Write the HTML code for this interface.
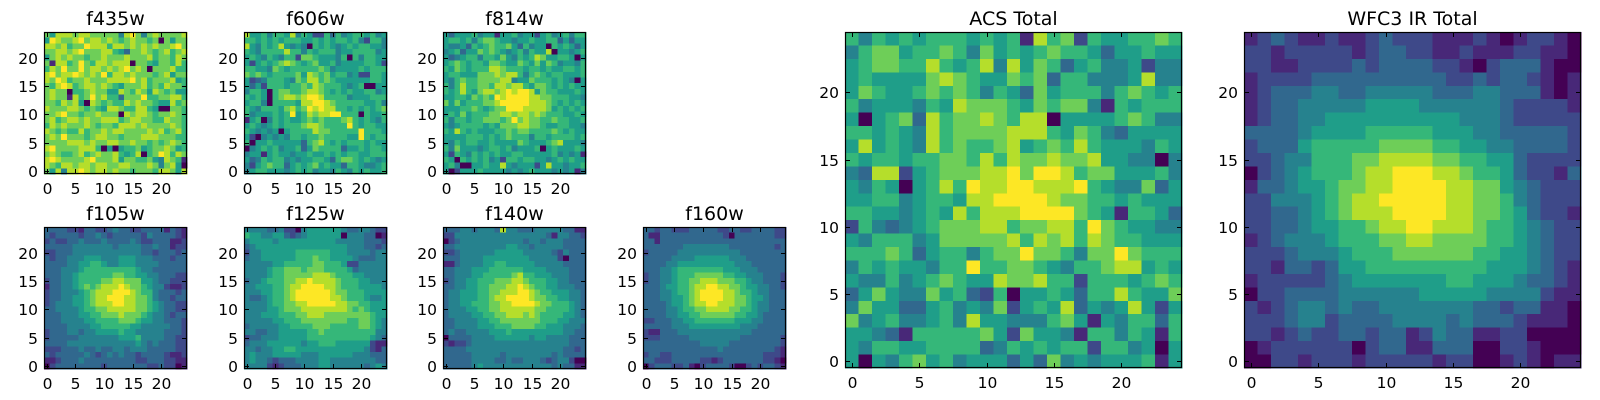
<!DOCTYPE html>
<html><head><meta charset="utf-8">
<style>
html,body{margin:0;padding:0;background:#fff;}
svg{display:block;}
text{font-family:"DejaVu Sans","Liberation Sans",sans-serif;fill:#000;}
</style></head>
<body>
<svg id="fig" width="1600" height="400" viewBox="0 0 1600 400"></svg>
<script>
// Pixel levels (0..9 on viridis), rows listed from top (y=24) to bottom (y=0)
const f435w = [
"7 5 8 8 8 7 8 8 7 7 7 7 7 4 8 9 7 4 7 8 7 7 7 7 8",
"5 9 8 7 7 8 9 7 8 8 7 8 7 6 7 8 7 7 6 7 0 7 5 7 7",
"8 8 7 8 6 7 7 9 8 8 8 6 8 8 7 8 7 8 7 8 7 7 8 9 7",
"7 7 8 8 7 8 9 7 7 7 8 8 6 5 3 7 7 8 7 6 7 8 6 7 8",
"5 7 8 7 8 7 7 6 7 7 8 7 7 7 8 7 7 7 8 6 7 7 6 8 7",
"7 1 8 8 6 7 9 7 6 8 8 7 8 8 8 0 7 7 6 5 7 7 6 8 6",
"6 8 7 9 7 7 9 7 8 8 7 8 7 8 9 7 8 7 0 7 7 7 8 6 6",
"8 9 7 8 8 9 8 7 8 7 9 6 8 8 7 8 7 7 7 6 7 8 5 7 7",
"8 7 9 8 6 7 7 8 7 7 7 8 8 8 8 9 7 8 6 7 7 7 8 5 6",
"7 6 8 9 8 6 7 8 8 7 8 7 6 5 7 7 7 8 6 7 6 8 7 7 6",
"7 8 7 7 0 6 6 7 8 7 7 5 5 8 7 6 8 7 5 8 7 6 7 5 5",
"7 8 7 7 1 8 6 7 9 7 8 6 6 3 7 7 7 9 6 6 7 7 8 8 6",
"7 7 6 8 7 8 5 0 8 7 6 7 6 6 8 7 8 7 7 6 5 5 8 6 7",
"8 7 7 7 8 8 7 6 7 6 5 8 8 7 6 6 8 8 6 5 0 0 7 7 6",
"7 7 8 9 7 7 6 7 7 8 7 7 7 0 8 7 8 8 7 6 7 7 8 7 6",
"7 8 6 7 8 8 7 8 7 7 8 8 8 6 7 8 8 7 7 6 6 8 7 7 6",
"6 8 7 8 7 7 7 8 7 6 7 7 6 8 8 8 7 8 7 7 7 7 8 7 6",
"8 7 6 7 6 6 8 6 7 7 8 7 8 8 7 7 7 7 8 7 8 6 7 8 6",
"7 8 7 9 7 7 7 6 7 8 8 7 7 6 7 7 7 8 8 8 7 7 7 6 6",
"7 7 7 7 8 8 8 7 8 7 7 8 8 7 7 8 7 7 6 7 6 7 8 7 6",
"8 9 7 7 7 7 8 8 8 6 0 5 0 5 6 6 7 5 6 7 7 8 7 5 6",
"7 8 7 6 6 7 8 6 7 8 7 7 8 6 5 6 8 0 6 7 9 8 6 8 7",
"8 9 8 7 7 7 7 8 9 7 7 7 8 5 7 7 6 6 7 5 4 8 7 6 1",
"8 7 6 8 8 7 8 8 7 8 8 7 7 8 8 7 7 7 8 7 4 7 8 5 0",
"7 5 8 4 8 8 9 8 7 8 8 7 8 7 7 6 7 7 7 6 8 8 7 5 8"];
const f606w = [
"8 5 5 6 4 6 6 5 8 4 6 5 2 2 6 3 6 4 5 6 6 5 6 4 5",
"6 6 5 6 5 6 5 6 6 6 5 5 6 5 6 5 6 6 5 6 4 2 6 6 4",
"8 5 4 6 5 6 8 5 4 5 4 0 6 5 6 5 4 5 6 5 6 6 5 5 4",
"6 5 4 6 6 6 6 8 6 6 4 6 5 6 6 6 4 5 5 6 6 6 6 4 5",
"5 6 5 4 6 5 4 6 6 2 7 7 6 5 5 5 4 6 0 6 4 6 6 5 5",
"5 2 5 6 5 6 7 8 7 6 5 6 7 5 5 6 4 5 5 5 5 6 6 5 2",
"6 6 5 5 4 7 6 5 6 6 6 6 6 7 6 4 5 5 5 5 6 5 6 6 6",
"7 6 7 6 5 6 6 6 6 7 5 8 7 6 7 5 6 6 4 5 2 2 6 6 5",
"5 2 3 4 6 6 6 5 4 7 6 8 8 6 7 6 5 5 5 5 5 5 6 6 5",
"5 3 5 2 6 6 6 5 6 6 7 6 8 7 6 6 6 5 4 5 6 0 0 5 5",
"4 6 6 5 0 6 7 7 6 6 7 8 8 7 6 5 6 5 6 5 5 6 6 4 5",
"6 5 6 5 0 6 7 8 8 7 8 9 9 8 6 6 6 6 4 5 5 5 6 6 6",
"5 6 6 4 0 6 6 6 6 5 8 8 9 9 8 7 6 6 6 6 6 5 5 6 4",
"6 5 4 6 6 6 5 7 8 6 7 9 8 9 8 8 6 6 5 6 5 6 5 6 7",
"6 4 5 5 5 6 5 6 9 5 6 8 7 8 8 9 9 6 6 6 0 6 5 5 6",
"1 5 6 0 4 6 5 6 5 5 6 7 6 7 6 6 6 7 8 6 5 6 5 4 6",
"5 6 5 4 5 6 5 6 6 6 7 8 8 7 6 6 6 6 9 6 5 6 6 5 5",
"6 5 4 5 4 5 0 5 6 6 6 6 8 7 7 6 6 6 6 6 9 6 6 6 5",
"5 2 0 4 5 4 5 4 6 6 5 6 6 7 6 6 6 6 5 5 9 6 5 6 6",
"6 0 5 5 6 5 5 5 5 5 3 6 7 8 6 5 6 5 6 6 6 5 6 5 5",
"0 4 5 6 5 6 4 5 5 6 3 5 7 6 6 6 6 3 5 5 6 5 6 6 5",
"4 5 5 1 5 6 5 5 4 5 5 6 5 5 6 5 6 5 6 6 5 5 6 6 6",
"5 3 4 6 5 6 6 4 5 4 5 5 6 6 5 3 6 7 7 6 5 6 5 4 5",
"4 2 5 6 7 6 6 3 5 6 5 6 7 5 6 5 5 3 6 6 5 4 4 5 6",
"4 5 6 6 5 5 5 4 5 6 5 6 4 5 5 4 6 5 4 6 5 6 5 5 6"];
const f814w = [
"5 3 5 5 5 6 4 5 5 1 5 5 6 4 5 5 2 5 6 4 5 6 4 6 6",
"5 6 6 5 6 4 6 7 7 6 5 5 4 5 5 6 5 5 6 6 3 5 3 5 5",
"5 4 4 5 3 6 5 6 7 6 6 7 5 3 6 4 5 5 0 6 5 6 5 3 5",
"4 5 6 3 5 5 7 6 7 6 5 4 5 6 4 6 5 5 8 0 5 5 4 5 6",
"5 3 4 5 6 6 4 6 6 5 7 5 4 6 5 6 8 7 5 5 6 6 5 0 5",
"5 6 7 6 5 6 6 5 7 7 6 5 5 7 6 5 7 5 7 6 4 5 5 4 6",
"6 5 7 6 5 6 6 6 8 8 7 6 6 6 5 6 6 5 6 5 5 6 6 5 6",
"5 6 6 5 5 5 7 7 7 8 7 8 8 6 4 6 7 6 5 6 6 5 5 5 6",
"5 4 6 7 6 6 7 7 7 7 8 8 4 5 5 7 6 6 6 5 6 5 4 0 5",
"6 4 6 8 6 6 7 7 6 8 8 7 8 8 6 5 7 7 6 5 6 5 6 5 5",
"6 5 6 8 6 5 7 8 8 7 8 9 8 9 9 8 5 7 6 6 5 5 5 6 5",
"5 5 6 6 5 7 6 7 6 9 8 9 9 9 9 8 8 7 7 6 6 6 5 5 4",
"7 5 7 5 6 6 6 7 7 8 9 9 9 9 9 8 8 8 7 6 5 6 5 6 5",
"5 5 5 6 6 7 6 5 6 7 7 9 9 9 8 8 8 8 7 5 6 5 6 5 6",
"5 6 5 7 5 6 6 6 7 7 8 8 7 8 8 7 8 7 6 6 6 5 5 6 5",
"6 4 6 6 5 6 6 7 7 7 6 7 9 7 8 7 7 6 6 7 6 6 5 5 6",
"5 4 5 6 6 6 6 5 6 5 7 7 7 8 8 7 7 6 5 5 6 6 5 5 4",
"6 5 8 6 5 6 5 5 5 6 6 7 6 7 7 6 6 6 6 7 6 5 6 5 5",
"5 5 5 5 6 6 6 5 6 5 6 7 6 6 6 4 6 6 5 6 6 6 6 5 6",
"5 4 6 5 6 6 5 5 6 5 5 5 5 7 6 5 5 5 6 7 8 5 5 5 4",
"6 4 7 5 5 5 4 5 6 6 5 6 4 5 5 5 6 0 5 6 5 5 5 6 5",
"5 2 6 5 4 6 5 6 5 6 5 5 6 6 5 5 5 5 5 6 4 5 4 5 1",
"6 5 0 6 5 6 5 6 4 5 2 6 6 5 6 6 5 5 4 5 6 5 6 5 5",
"5 6 4 0 0 5 5 6 5 5 8 5 4 5 5 5 2 5 8 5 5 4 5 5 6",
"5 0 2 5 5 5 6 5 5 5 5 4 5 4 5 6 5 5 5 4 5 4 5 1 4"];
const f105w = [
"3 3 3 3 2 2 1 3 3 2 2 3 4 3 3 2 2 3 3 3 3 1 3 2 1",
"3 2 3 3 3 3 2 3 3 4 3 2 3 3 3 3 3 2 4 3 3 3 3 2 1",
"2 3 2 2 3 3 4 3 3 3 4 3 3 3 3 4 3 2 2 3 3 3 1 1 2",
"3 3 3 3 3 4 4 4 4 4 4 4 3 4 4 4 4 3 3 4 3 3 1 2 2",
"2 2 3 3 3 4 4 4 4 4 4 4 4 4 4 4 4 3 3 2 3 3 3 2 3",
"3 2 3 3 4 4 4 5 5 5 4 4 4 5 5 5 4 4 4 3 3 3 2 3 3",
"3 3 3 3 4 4 5 5 6 6 5 4 4 5 5 5 4 4 4 4 3 3 3 3 3",
"3 3 3 4 4 4 5 6 6 6 6 6 6 6 6 6 5 4 4 3 3 3 3 3 3",
"3 3 3 4 4 5 6 6 6 6 6 6 7 7 6 6 5 5 4 4 3 3 3 2 2",
"2 3 3 4 4 5 6 6 6 6 7 7 8 8 7 7 7 5 5 4 3 3 2 2 2",
"1 3 3 4 4 5 6 7 6 7 8 8 8 9 8 7 7 6 5 4 4 2 1 1 2",
"2 3 3 4 4 4 5 6 7 8 8 8 9 9 9 8 7 6 6 4 3 3 3 2 3",
"2 3 3 4 4 5 5 6 7 8 8 9 9 9 8 8 7 7 6 4 3 3 2 3 3",
"2 3 4 4 4 5 5 6 7 8 8 8 9 9 8 8 7 7 6 5 4 3 3 2 2",
"3 3 4 4 4 4 5 6 6 7 7 8 8 8 8 8 7 7 6 5 4 3 3 2 2",
"3 3 3 4 4 4 5 5 6 6 7 7 7 8 7 7 7 6 5 4 4 3 2 3 3",
"3 3 3 4 4 4 4 5 5 6 6 6 6 7 7 7 6 5 5 4 4 3 3 3 2",
"3 3 3 3 4 4 4 4 5 5 6 6 6 6 6 5 5 4 4 4 4 4 3 3 2",
"2 3 3 3 4 4 3 4 4 5 5 5 5 6 5 5 4 4 4 4 4 3 3 3 2",
"2 3 3 3 3 3 4 4 4 4 4 4 4 5 5 5 6 4 4 4 4 3 3 2 2",
"3 3 3 3 4 4 4 4 4 4 4 4 4 4 4 4 5 4 3 4 3 3 3 2 2",
"2 2 2 3 3 3 4 3 3 4 3 3 4 4 3 4 4 4 3 3 3 3 3 2 2",
"3 2 3 3 3 3 3 4 3 2 3 4 3 4 3 3 2 3 3 3 3 2 1 1 2",
"1 1 2 3 3 3 4 3 3 3 3 3 3 3 3 3 2 2 3 3 3 2 2 1 1",
"0 2 3 3 3 3 3 3 3 3 2 3 3 3 3 3 3 3 2 2 3 2 2 0 1"];
const f125w = [
"4 4 4 4 3 3 4 2 2 0 4 5 5 5 5 5 5 4 3 3 4 4 3 2 2",
"6 5 5 4 4 5 5 3 2 3 4 5 5 5 5 5 5 0 4 4 4 3 3 0 1",
"4 5 5 5 5 4 5 5 5 5 5 5 5 5 5 5 4 4 4 4 4 3 3 3 2",
"3 4 5 5 5 5 5 5 5 5 5 5 5 5 5 5 5 5 4 4 4 3 3 2 3",
"2 4 4 5 5 5 5 5 5 6 6 6 6 6 6 5 5 5 4 4 4 4 3 4 4",
"3 4 4 5 5 5 5 5 5 6 6 6 7 6 6 5 5 5 5 4 3 3 3 4 4",
"4 4 4 4 4 5 5 6 6 6 6 6 7 7 6 6 6 5 2 2 4 4 4 4 4",
"4 4 4 4 5 6 6 7 7 7 6 7 7 7 6 6 6 6 5 3 4 4 4 4 4",
"4 4 4 4 5 6 6 7 7 7 7 7 8 8 8 7 6 6 6 5 5 4 4 4 4",
"3 4 4 5 6 6 6 7 7 8 8 9 8 8 8 8 7 6 6 6 5 5 4 4 4",
"4 4 5 5 5 6 6 7 8 8 9 9 9 9 8 8 7 6 6 6 5 5 5 5 4",
"4 4 4 5 5 6 6 7 8 9 9 9 9 9 9 8 7 7 6 6 6 5 5 5 5",
"4 3 3 4 5 6 6 7 8 9 9 9 9 9 9 8 8 7 6 6 6 5 4 4 5",
"4 4 4 4 5 6 6 7 7 8 8 9 9 9 9 9 8 8 7 7 6 6 5 5 5",
"4 4 4 4 5 5 6 7 7 7 8 8 8 8 8 8 8 8 7 6 7 6 5 5 5",
"4 4 4 5 5 5 6 6 6 7 7 8 8 8 7 7 7 7 7 7 7 7 6 5 5",
"4 4 4 4 4 5 5 6 6 6 7 7 7 7 7 7 7 7 6 6 7 7 6 5 4",
"3 4 4 4 4 4 5 5 6 6 6 6 7 7 7 6 6 6 6 6 7 7 6 5 4",
"4 4 3 3 4 4 5 5 5 5 5 6 6 7 6 6 6 6 6 6 6 6 6 4 4",
"2 3 3 4 4 4 5 5 5 5 5 6 6 6 6 6 6 6 6 6 6 6 5 4 3",
"3 4 4 4 5 5 5 5 5 5 4 5 5 6 6 6 5 5 5 5 5 5 2 1 1",
"4 4 3 4 4 5 5 6 6 5 5 5 5 5 5 5 5 5 5 5 5 4 2 1 3",
"4 5 4 4 4 5 5 5 5 5 4 4 4 5 5 5 5 5 5 4 4 4 3 3 3",
"4 5 4 4 3 2 3 3 3 4 4 4 4 5 5 4 4 4 4 4 4 4 4 3 3",
"4 4 4 4 2 1 2 3 3 3 4 4 4 5 5 4 4 4 4 4 4 3 4 5 4"];
const f140w = [
"3 3 3 4 4 3 4 4 4 3 8 4 4 3 3 3 4 4 4 4 4 3 3 1 1",
"2 2 4 4 4 4 4 4 4 4 4 4 4 4 4 4 4 4 3 1 4 4 3 3 2",
"0 2 3 4 4 4 4 4 4 4 4 4 4 4 3 4 4 3 4 4 4 3 3 3 3",
"3 3 4 4 4 4 4 4 4 4 4 5 5 4 4 3 4 4 4 4 4 3 3 3 3",
"2 2 3 4 4 4 4 4 4 5 5 5 5 5 4 4 4 4 4 3 2 4 3 3 3",
"3 3 3 4 4 4 4 5 5 5 5 5 5 5 5 4 4 4 4 4 2 0 3 3 3",
"1 1 3 4 4 4 4 5 5 6 6 5 5 5 5 5 4 4 4 4 4 3 3 3 3",
"3 3 4 4 4 5 5 5 6 6 6 6 6 6 5 5 5 5 4 4 4 4 3 3 3",
"3 3 4 4 4 5 5 6 6 6 6 6 7 8 6 6 5 5 5 4 4 4 3 3 3",
"2 3 4 4 5 5 6 6 6 7 7 7 8 8 7 6 6 6 5 5 4 4 3 3 3",
"3 3 4 4 5 5 6 6 7 7 7 8 8 9 8 7 6 6 5 5 4 4 4 3 3",
"3 4 4 5 5 5 6 6 7 7 8 8 8 9 9 8 7 6 6 5 5 5 4 4 3",
"3 4 4 5 5 5 6 6 7 8 8 9 9 9 9 8 7 7 6 6 5 5 4 4 3",
"3 4 4 5 5 6 6 6 7 7 8 8 9 9 9 9 8 7 7 6 6 6 5 4 3",
"3 4 4 4 5 5 6 6 7 7 8 8 8 8 8 8 7 7 6 6 6 6 5 4 3",
"3 4 4 4 4 5 5 6 6 7 7 8 8 8 7 8 7 6 6 6 6 5 5 4 3",
"3 3 4 4 4 4 5 5 6 6 7 7 7 7 7 7 7 6 6 6 5 5 4 4 4",
"3 3 4 4 4 4 5 5 5 6 6 6 7 7 7 7 6 6 5 5 5 4 4 4 3",
"3 4 3 3 4 4 4 4 5 5 5 6 5 5 5 5 5 5 5 5 5 4 4 3 3",
"0 3 3 3 3 4 4 4 4 5 5 5 5 5 5 4 5 5 4 4 4 4 3 3 3",
"2 1 2 2 3 4 4 4 4 4 4 4 4 4 4 4 4 4 4 4 4 4 3 3 3",
"3 3 3 3 4 4 4 4 4 4 4 4 4 4 4 4 4 4 4 4 4 3 3 2 3",
"3 3 3 3 3 4 4 4 4 4 3 4 4 4 4 4 4 4 4 3 4 3 3 3 3",
"3 3 3 3 3 4 4 4 4 3 3 4 3 3 4 4 4 3 2 3 4 4 2 0 0",
"3 3 3 3 3 4 5 4 4 4 4 4 4 4 4 4 4 4 4 3 4 3 3 1 1"];
const f160w = [
"3 3 2 3 3 2 2 2 3 3 3 3 3 2 2 3 3 2 2 3 3 3 3 2 2",
"3 1 1 3 3 3 3 3 3 3 3 3 3 3 2 0 3 3 3 3 3 3 3 2 2",
"3 3 1 3 3 3 3 3 3 3 3 3 3 3 3 3 3 3 3 3 3 3 3 3 3",
"3 3 3 3 3 3 3 4 4 4 4 4 4 4 4 3 3 3 3 3 3 3 3 2 3",
"2 3 3 3 3 3 4 4 4 4 4 4 4 4 4 4 4 3 3 3 3 3 3 3 3",
"3 3 3 3 3 4 4 4 4 5 5 5 5 5 5 4 4 4 3 3 3 3 3 3 3",
"3 3 3 3 4 4 5 5 5 5 5 5 5 5 5 5 4 4 4 3 3 3 3 3 3",
"3 3 3 4 4 5 6 6 6 6 6 6 6 6 5 5 5 4 4 4 3 3 3 3 3",
"2 3 3 4 4 5 6 6 6 7 7 7 7 7 6 6 5 5 4 4 4 3 3 3 2",
"2 3 3 4 4 5 6 6 7 7 8 8 8 7 7 7 6 6 5 4 4 3 3 3 2",
"3 3 3 4 5 5 6 6 7 8 8 9 9 8 8 7 7 6 5 5 4 4 3 3 2",
"3 3 3 4 4 5 6 6 7 8 9 9 9 9 8 8 7 6 6 5 4 4 3 3 3",
"3 3 3 4 4 5 5 6 7 8 9 9 9 9 8 8 7 7 6 5 5 4 3 3 3",
"3 3 3 3 4 5 5 6 7 8 8 9 9 8 8 8 7 7 6 5 4 4 3 3 3",
"3 3 3 3 4 4 5 6 6 7 7 8 8 8 8 7 7 6 6 5 4 4 3 3 3",
"3 3 3 3 4 4 5 5 6 6 7 7 7 7 7 7 6 6 5 5 4 3 3 3 3",
"2 2 3 3 3 4 4 5 5 6 6 6 6 6 6 6 5 5 5 4 4 3 3 3 3",
"3 3 3 3 3 4 4 4 5 5 5 5 5 5 5 5 5 4 4 4 3 3 3 3 3",
"2 1 1 3 3 3 4 4 4 4 4 4 4 4 4 4 4 4 4 3 3 3 3 3 3",
"2 2 2 3 3 3 3 3 4 4 4 4 4 4 4 4 4 3 3 3 3 3 3 3 2",
"3 3 3 3 3 3 3 3 3 3 4 4 4 4 4 3 3 3 3 3 3 3 3 3 2",
"3 3 3 3 3 3 3 3 3 3 3 3 3 4 3 3 3 3 3 3 3 3 3 2 1",
"2 3 3 2 2 3 3 3 3 3 3 3 3 3 3 3 3 3 3 3 3 2 2 2 1",
"3 3 2 2 2 3 3 3 3 3 2 2 1 2 3 3 3 3 3 3 3 2 2 1 0",
"0 2 3 3 3 2 2 3 1 0 2 3 3 3 3 2 0 0 2 3 2 3 3 2 1"];
const acsTotal = [
"6 4 6 5 6 5 6 6 6 5 6 5 6 1 8 6 7 2 6 5 5 6 6 7 6",
"4 6 7 7 5 6 6 7 6 4 7 5 6 5 6 7 6 6 5 3 5 5 6 5 5",
"5 6 7 7 6 6 8 6 5 6 8 4 8 5 7 6 3 5 6 4 4 5 2 4 4",
"5 6 5 5 5 5 7 8 7 6 5 5 7 6 7 3 6 6 4 4 4 5 8 4 4",
"5 7 6 5 5 6 7 6 7 6 4 6 5 3 7 5 6 6 6 4 6 7 6 5 6",
"6 4 5 5 5 4 6 5 8 7 7 7 6 5 7 6 7 7 4 1 6 5 6 6 6",
"5 0 5 6 7 3 8 6 7 7 8 7 6 8 8 0 5 5 5 5 6 7 6 4 4",
"6 6 5 6 5 4 8 6 7 7 7 7 8 8 8 6 5 7 6 4 3 5 5 5 5",
"5 8 5 6 5 4 8 6 7 6 6 7 8 5 6 7 6 8 6 5 5 5 4 6 5",
"6 5 6 6 5 6 6 7 7 6 8 6 8 7 7 8 7 7 8 5 5 4 4 0 4",
"4 3 8 8 2 5 6 7 7 7 8 8 9 7 9 9 8 6 7 7 5 5 5 6 4",
"5 4 6 5 0 5 6 8 6 9 8 8 9 9 8 8 8 9 6 5 4 4 7 3 5",
"5 5 6 6 4 5 6 6 5 8 8 9 9 9 9 8 7 7 6 6 5 6 5 5 5",
"6 6 5 5 4 5 6 5 8 6 8 8 8 9 9 9 9 7 6 5 1 6 6 5 3",
"2 6 4 3 4 5 6 7 7 7 8 8 6 7 7 8 8 6 9 7 6 5 5 4 4",
"5 4 6 6 6 4 5 7 7 7 7 7 8 6 8 7 8 6 8 7 6 6 5 5 5",
"6 6 6 7 6 3 5 6 6 4 6 7 7 9 7 7 6 4 7 7 9 7 6 6 6",
"4 6 5 6 5 5 4 6 6 9 6 6 7 7 6 5 4 6 6 7 8 8 5 6 5",
"5 4 4 6 4 5 6 7 6 5 5 8 7 7 8 6 6 2 6 6 6 5 6 7 6",
"3 5 7 5 4 4 7 5 6 3 2 6 0 5 5 6 5 3 6 6 8 6 5 5 7",
"4 7 5 5 3 3 5 6 4 5 4 7 2 5 6 5 8 3 5 4 5 8 5 2 5",
"7 4 5 6 4 4 5 6 4 8 5 5 4 4 4 6 7 5 1 5 4 6 6 3 6",
"5 5 4 3 1 6 6 6 6 6 7 5 2 7 5 5 4 1 6 6 4 6 5 1 6",
"5 4 6 6 5 5 6 6 6 6 3 4 6 5 6 5 6 6 2 6 6 4 5 0 5",
"5 0 5 4 6 7 5 6 4 5 5 5 3 5 3 7 4 5 4 5 5 5 6 1 5"];
const wfc3Total = [
"1 2 3 2 1 1 2 1 1 2 3 2 2 2 1 1 1 2 1 0 1 2 2 1 0",
"2 2 1 2 2 2 2 2 1 2 3 3 2 2 1 1 2 1 1 1 2 2 1 1 0",
"2 2 1 1 2 2 2 2 3 2 3 3 3 3 2 2 1 0 2 3 3 3 1 0 0",
"1 2 2 2 2 3 3 3 3 3 3 3 3 3 3 2 2 3 2 3 3 2 1 0 1",
"1 2 3 3 3 4 4 3 3 4 4 4 4 4 3 3 3 4 4 3 3 3 1 0 1",
"1 2 3 3 4 4 4 4 4 5 5 5 5 4 4 4 4 4 4 3 2 2 2 2 1",
"1 2 3 3 4 4 5 5 5 5 5 5 5 5 5 5 4 4 4 3 2 2 2 2 2",
"3 3 3 3 4 5 5 5 5 6 6 6 6 6 5 5 5 4 4 3 3 3 3 3 2",
"2 3 3 3 5 6 6 6 6 6 7 7 7 7 6 6 5 5 4 4 3 3 3 3 2",
"2 2 3 4 4 6 6 6 7 7 8 8 8 8 7 7 6 6 5 5 3 2 2 2 2",
"0 2 3 4 5 6 6 6 7 8 8 9 9 9 8 8 7 6 6 5 3 2 2 1 3",
"1 3 3 4 5 5 6 7 7 8 8 9 9 9 9 8 8 7 7 5 4 3 2 2 2",
"2 2 4 4 4 5 6 7 8 8 9 9 9 9 9 8 8 7 7 6 4 3 2 2 2",
"2 2 3 3 4 5 6 7 8 8 8 9 9 9 9 8 8 7 7 6 5 3 2 2 1",
"2 2 3 3 4 5 5 6 6 7 8 8 9 9 8 8 8 7 6 6 5 4 3 2 2",
"1 2 3 4 4 4 5 6 6 6 7 7 8 8 7 7 7 7 6 6 5 4 3 2 2",
"2 2 2 3 4 4 4 5 6 6 6 7 7 7 7 7 7 6 6 5 5 4 3 2 2",
"2 2 1 3 3 2 3 5 5 6 6 6 6 6 6 6 6 6 5 5 5 4 3 2 1",
"1 2 2 2 2 2 3 4 5 5 5 5 5 5 5 6 6 5 5 5 4 3 3 2 1",
"0 2 2 3 3 3 3 4 4 4 4 4 4 5 5 5 5 5 4 4 4 4 2 1 1",
"2 1 2 3 4 4 3 4 3 3 4 4 4 4 4 4 4 3 3 2 3 3 1 1 0",
"2 2 2 3 4 4 2 3 3 3 3 4 4 4 4 3 4 3 3 3 2 1 1 1 0",
"2 2 1 2 3 2 2 3 3 2 3 3 1 2 4 3 3 1 1 2 2 0 0 0 0",
"0 1 2 2 2 2 2 2 0 2 3 3 1 1 3 3 3 0 0 2 2 1 0 0 0",
"0 0 2 2 1 2 2 2 1 2 2 2 2 2 1 2 2 0 0 1 2 1 0 1 1"];
const tickValues = [0, 5, 10, 15, 20];
const tickLabels = ["0", "5", "10", "15", "20"];
const viridis = ["#440154","#482878","#3e4989","#31688e","#26828e","#1f9e89","#35b779","#6ece58","#b5de2b","#fde725"];

const NS = "http://www.w3.org/2000/svg";
const svg = document.getElementById("fig");
function mk(tag, attrs, parent) {
  const e = document.createElementNS(NS, tag);
  for (const k in attrs) e.setAttribute(k, attrs[k]);
  parent.appendChild(e);
  return e;
}

function drawPanel(key, title, rows, x0, y0, w, h, titleY) {
  const g = mk("g", {}, svg);
  
  
  const N = 25;
  const sx = v => x0 + (v + 0.5) / N * w;
  const sy = v => y0 + h - (v + 0.5) / N * h;
  const cw = w / N, ch = h / N;
  const img = mk("g", {"shape-rendering": "crispEdges"}, g);
  
  
  rows.forEach((rowStr, r) => {
    const vals = rowStr.replace(/\s+/g, "");
    const yi = N - 1 - r;
    for (let xi = 0; xi < vals.length; xi++) {
      const lv = +vals[xi];
      const c = mk("rect", {
        x: (sx(xi) - cw / 2).toFixed(2), y: (sy(yi) - ch / 2).toFixed(2),
        width: (cw + 0.6).toFixed(2), height: (ch + 0.6).toFixed(2), fill: viridis[lv]
      }, img);
      
      
    }
  });
  const tk = mk("g", {stroke: "#000", "stroke-width": 1}, g);
  
  
  tickValues.forEach((t, i) => {
    const px = Math.round(sx(t)) + 0.5, py = Math.round(sy(t)) + 0.5;
    mk("line", {x1: px, y1: y0 + h, x2: px, y2: y0 + h - 5}, tk);
    mk("line", {x1: px, y1: y0, x2: px, y2: y0 + 5}, tk);
    mk("line", {x1: x0, y1: py, x2: x0 + 5, y2: py}, tk);
    mk("line", {x1: x0 + w, y1: py, x2: x0 + w - 5, y2: py}, tk);
    const xl = mk("text", {x: px, y: y0 + h + 20, "font-size": 15.5, "text-anchor": "middle"}, g);
    xl.textContent = tickLabels[i];
    
    
    const yl = mk("text", {x: x0 - 6, y: py + 5.5, "font-size": 15.5, "text-anchor": "end"}, g);
    yl.textContent = tickLabels[i];
    
    
  });
  const fr = mk("rect", {x: x0 + 0.5, y: y0 + 0.5, width: w - 1, height: h - 1, fill: "none", stroke: "#000", "stroke-width": 1.2}, g);
  
  
  const tt = mk("text", {x: x0 + w / 2, y: titleY, "font-size": 19, "text-anchor": "middle"}, g);
  tt.textContent = title;
  
  
}

drawPanel("f435w", "f435w", f435w, 44, 32, 143, 142, 25);
drawPanel("f606w", "f606w", f606w, 244, 32, 143, 142, 25);
drawPanel("f814w", "f814w", f814w, 443, 32, 143, 142, 25);
drawPanel("f105w", "f105w", f105w, 44, 227, 143, 142, 220);
drawPanel("f125w", "f125w", f125w, 244, 227, 143, 142, 220);
drawPanel("f140w", "f140w", f140w, 443, 227, 143, 142, 220);
drawPanel("f160w", "f160w", f160w, 643, 227, 143, 142, 220);
drawPanel("acs-total", "ACS Total", acsTotal, 845, 32, 337, 336, 25);
drawPanel("wfc3-ir-total", "WFC3 IR Total", wfc3Total, 1244, 32, 337, 336, 25);
</script>
</body></html>
